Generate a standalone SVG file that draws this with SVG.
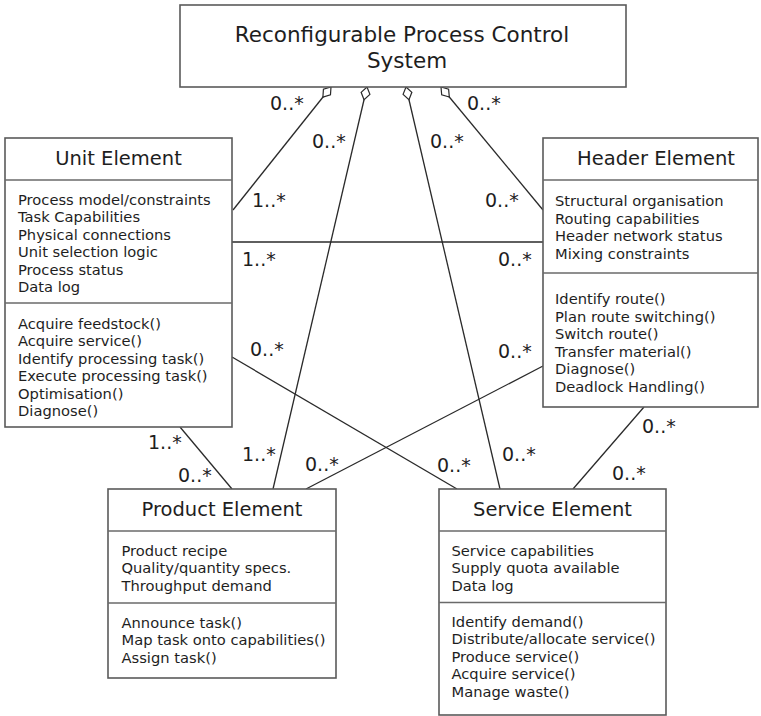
<svg xmlns="http://www.w3.org/2000/svg" width="761" height="716" viewBox="0 0 761 716">
<style>
.box{fill:#fff;stroke:#5a5a5a;stroke-width:1.6}
.div{stroke:#6a6a6a;stroke-width:1.4}
.t{font-family:"DejaVu Sans",Verdana,sans-serif;fill:#1e1e1e}
.title{font-size:19.5px;text-anchor:middle}
.big{font-size:21.5px;text-anchor:middle}
.item{font-size:14.7px}
.lab{font-size:19px}
.con{stroke:#2a2a2a;stroke-width:1.3;fill:none}
</style>
<defs>
<marker id="dia" markerUnits="userSpaceOnUse" markerWidth="18" markerHeight="12" refX="1" refY="6" orient="auto" viewBox="0 0 18 12">
<path d="M1,6 L7.5,1.5 L14,6 L7.5,10.5 Z" fill="#fff" stroke="#2a2a2a" stroke-width="1.2"/>
</marker>
</defs>
<rect width="761" height="716" fill="#fff"/>

<g id="connectors">
<line class="con" x1="331" y1="87" x2="233" y2="210" marker-start="url(#dia)"/>
<line class="con" x1="367" y1="87" x2="273" y2="489" marker-start="url(#dia)"/>
<line class="con" x1="406" y1="87" x2="500" y2="489" marker-start="url(#dia)"/>
<line class="con" x1="441" y1="87" x2="543" y2="210" marker-start="url(#dia)"/>
<line class="con" x1="232" y1="242" x2="543" y2="242"/>
<line class="con" x1="232" y1="357" x2="457" y2="489"/>
<line class="con" x1="543" y1="366" x2="306" y2="489"/>
<line class="con" x1="180" y1="427" x2="232" y2="489"/>
<line class="con" x1="644" y1="407" x2="573" y2="489"/>
<g class="t lab">
<text x="270" y="110">0..*</text>
<text x="312" y="148">0..*</text>
<text x="430" y="148">0..*</text>
<text x="467" y="110">0..*</text>
<text x="252" y="207">1..*</text>
<text x="485" y="207">0..*</text>
<text x="242" y="266">1..*</text>
<text x="498" y="266">0..*</text>
<text x="250" y="356">0..*</text>
<text x="498" y="358">0..*</text>
<text x="148" y="449">1..*</text>
<text x="178" y="482">0..*</text>
<text x="242" y="461">1..*</text>
<text x="305" y="471">0..*</text>
<text x="437" y="472">0..*</text>
<text x="502" y="461">0..*</text>
<text x="642" y="433">0..*</text>
<text x="612" y="480">0..*</text>
</g>
</g>

<g id="system">
<rect class="box" x="180" y="5" width="446" height="82"/>
<text class="t big" x="402" y="42">Reconfigurable Process Control</text>
<text class="t big" x="407" y="68">System</text>
</g>

<g id="unit">
<rect class="box" x="5" y="138" width="227" height="289"/>
<line class="div" x1="5" y1="180" x2="232" y2="180"/>
<line class="div" x1="5" y1="303" x2="232" y2="303"/>
<text class="t title" x="118.5" y="165">Unit Element</text>
<g class="t item">
<text x="18" y="204.5">Process model/constraints</text>
<text x="18" y="222">Task Capabilities</text>
<text x="18" y="239.5">Physical connections</text>
<text x="18" y="257">Unit selection logic</text>
<text x="18" y="274.5">Process status</text>
<text x="18" y="292">Data log</text>
<text x="18" y="328.5">Acquire feedstock()</text>
<text x="18" y="346">Acquire service()</text>
<text x="18" y="363.5">Identify processing task()</text>
<text x="18" y="381">Execute processing task()</text>
<text x="18" y="398.5">Optimisation()</text>
<text x="18" y="416">Diagnose()</text>
</g>
</g>

<g id="header">
<rect class="box" x="543" y="138" width="215" height="269"/>
<line class="div" x1="543" y1="180" x2="758" y2="180"/>
<line class="div" x1="543" y1="273" x2="758" y2="273"/>
<text class="t title" x="656" y="165">Header Element</text>
<g class="t item">
<text x="555" y="206">Structural organisation</text>
<text x="555" y="223.5">Routing capabilities</text>
<text x="555" y="241">Header network status</text>
<text x="555" y="258.5">Mixing constraints</text>
<text x="555" y="304">Identify route()</text>
<text x="555" y="321.5">Plan route switching()</text>
<text x="555" y="339">Switch route()</text>
<text x="555" y="356.5">Transfer material()</text>
<text x="555" y="374">Diagnose()</text>
<text x="555" y="391.5">Deadlock Handling()</text>
</g>
</g>

<g id="product">
<rect class="box" x="108" y="489" width="228" height="189"/>
<line class="div" x1="108" y1="531" x2="336" y2="531"/>
<line class="div" x1="108" y1="603" x2="336" y2="603"/>
<text class="t title" x="222" y="516">Product Element</text>
<g class="t item">
<text x="121.5" y="555.5">Product recipe</text>
<text x="121.5" y="573">Quality/quantity specs.</text>
<text x="121.5" y="590.5">Throughput demand</text>
<text x="121.5" y="627.5">Announce task()</text>
<text x="121.5" y="645">Map task onto capabilities()</text>
<text x="121.5" y="662.5">Assign task()</text>
</g>
</g>

<g id="service">
<rect class="box" x="439" y="489" width="227" height="226"/>
<line class="div" x1="439" y1="531" x2="666" y2="531"/>
<line class="div" x1="439" y1="602.5" x2="666" y2="602.5"/>
<text class="t title" x="552.5" y="516">Service Element</text>
<g class="t item">
<text x="451.5" y="555.5">Service capabilities</text>
<text x="451.5" y="573">Supply quota available</text>
<text x="451.5" y="590.5">Data log</text>
<text x="451.5" y="626.5">Identify demand()</text>
<text x="451.5" y="644">Distribute/allocate service()</text>
<text x="451.5" y="661.5">Produce service()</text>
<text x="451.5" y="679">Acquire service()</text>
<text x="451.5" y="696.5">Manage waste()</text>
</g>
</g>
</svg>
